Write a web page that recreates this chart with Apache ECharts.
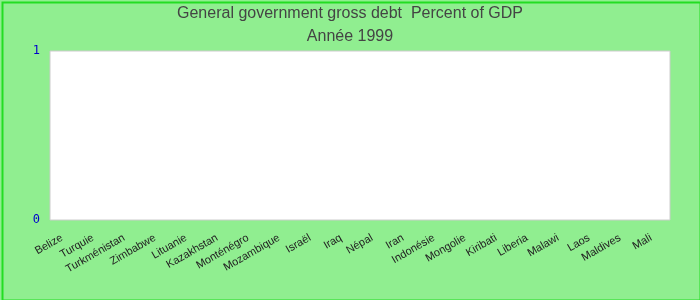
<!DOCTYPE html>
<html>
<head>
<meta charset="utf-8">
<script src="https://cdn.jsdelivr.net/npm/echarts@6/dist/echarts.min.js"></script>
<style>
html,body{margin:0;padding:0;background:#90EE90;}
#c{width:700px;height:300px;box-sizing:border-box;}
</style>
</head>
<body>
<div id="c"></div>
<script>
const titleText = "General government gross debt  Percent of GDP";
const subtitleText = "Année 1999";
const categories = ["Belize","Turquie","Turkménistan","Zimbabwe","Lituanie","Kazakhstan","Monténégro","Mozambique","Israël","Iraq","Népal","Iran","Indonésie","Mongolie","Kiribati","Liberia","Malawi","Laos","Maldives","Mali"];
const values = [0,0,0,0,0,0,0,0,0,0,0,0,0,0,0,0,0,0,0,0];
const yMin = 0, yMax = 1, yInterval = 1;

const chart = echarts.init(document.getElementById('c'), null, {renderer:'canvas'});
chart.setOption({
  backgroundColor: '#90EE90',
  animation: false,
  graphic: [{
    type: 'rect', left: 0, top: 0, z: 100, silent: true,
    shape: {x: 1, y: 1, width: 698, height: 298},
    style: {fill: 'none', stroke: '#22DD22', lineWidth: 2}
  }],
  title: [{
    text: titleText, left: 'center', top: 1,
    textStyle: {fontFamily: 'Liberation Sans, Arial, sans-serif', fontSize: 16, fontWeight: 'normal', color: '#444'}
  },{
    text: subtitleText, left: 'center', top: 24,
    textStyle: {fontFamily: 'Liberation Sans, Arial, sans-serif', fontSize: 16, fontWeight: 'normal', color: '#444'}
  }],
  grid: {left: 50, top: 51, right: 30, bottom: 80, show: true, backgroundColor: '#fff', borderColor: '#ccc', borderWidth: 1},
  xAxis: {
    type: 'category', data: categories,
    axisLine: {show: false}, axisTick: {show: false},
    axisLabel: {interval: 0, rotate: 30, margin: 15, padding: [0, 4, 0, 0], fontFamily: 'Liberation Sans, Arial, sans-serif', fontSize: 11, color: '#222'}
  },
  yAxis: {
    type: 'value', min: yMin, max: yMax, interval: yInterval,
    splitLine: {show: false}, axisLine: {show: false}, axisTick: {show: false},
    axisLabel: {margin: 10, padding: [4, 0, 0, 0], fontFamily: 'DejaVu Sans Mono, monospace', fontSize: 12, color: '#0000CC'}
  },
  series: [{type: 'bar', data: values, itemStyle: {color: '#4169E1'}}]
});
</script>
</body>
</html>
